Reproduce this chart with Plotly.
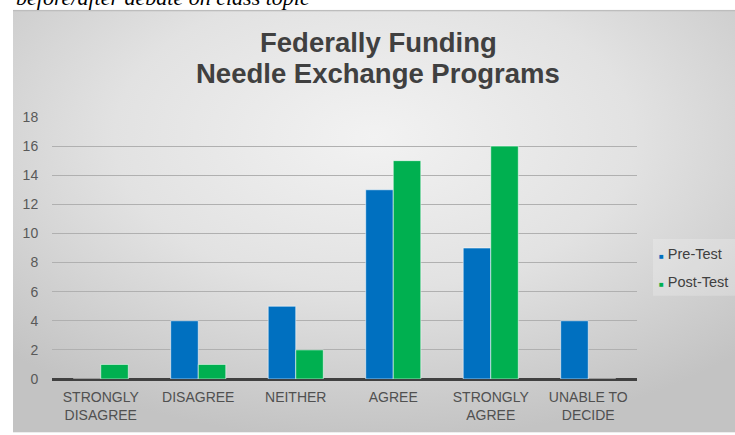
import base64
import plotly.graph_objects as go

# ---- data ----
categories = ["STRONGLY<br>DISAGREE", "DISAGREE", "NEITHER", "AGREE",
              "STRONGLY<br>AGREE", "UNABLE TO<br>DECIDE"]
series_names = ["Pre-Test", "Post-Test"]
pre_test = [0, 4, 5, 13, 9, 4]
post_test = [1, 1, 2, 15, 16, 0]
y_ticks = [0, 2, 4, 6, 8, 10, 12, 14, 16, 18]
title_lines = ["Federally Funding", "Needle Exchange Programs"]
caption = "before/after debate on class topic"

colors = ["#0070C0", "#00B050"]
W, H = 735, 435
L, R, T, B = 52, 98, 117, 54
pw, ph = W - L - R, H - T - B


def px_x(x):
    return (x - L) / pw


def px_y(y):
    return (H - B - y) / ph


fig = go.Figure()
for name, vals, col in zip(series_names, [pre_test, post_test], colors):
    fig.add_trace(go.Bar(
        x=categories, y=vals, name=name, showlegend=False,
        marker=dict(color=col, line=dict(color="rgba(255,255,255,0.55)", width=1)),
    ))

# gradient panel background
svg = ("<svg xmlns='http://www.w3.org/2000/svg' width='722' height='426' viewBox='0 0 722 426' preserveAspectRatio='none'>"
       "<defs><radialGradient id='g' cx='0.5' cy='0.3' r='0.72'>"
       "<stop offset='0' stop-color='#f2f2f2'/><stop offset='0.5' stop-color='#e2e2e2'/>"
       "<stop offset='1' stop-color='#c3c3c3'/></radialGradient></defs>"
       "<rect x='0' y='0' width='722' height='426' fill='url(#g)'/>"
       "<rect x='0' y='0' width='722' height='1.5' fill='#bdbdbd'/></svg>")
src = "data:image/svg+xml;base64," + base64.b64encode(svg.encode()).decode()
fig.add_layout_image(dict(
    source=src, xref="paper", yref="paper",
    x=px_x(13), y=px_y(9), sizex=722 / pw, sizey=426 / ph,
    xanchor="left", yanchor="top", sizing="stretch", layer="below",
))

annotations = []
# caption (cut off at top, as in the source)
annotations.append(dict(
    text="<i>%s</i>" % caption, xref="paper", yref="paper", x=px_x(14), y=px_y(-3),
    xanchor="left", yanchor="middle", showarrow=False,
    font=dict(family="Liberation Serif", size=22, color="#000000"),
))
# title lines
for line, yc in zip(title_lines, [42.0, 73.0]):
    annotations.append(dict(
        text="<b>%s</b>" % line, xref="paper", yref="paper",
        x=px_x(378), y=px_y(yc), xanchor="center", yanchor="middle",
        showarrow=False,
        font=dict(family="Liberation Sans", size=27.5, color="#404040"),
    ))
# legend
for name, col, yc in zip(series_names, colors, [255, 283]):
    annotations.append(dict(
        text="<span style='font-size:8px;color:%s'>■</span> %s" % (col, name),
        xref="paper", yref="paper", x=px_x(657), y=px_y(yc),
        xanchor="left", yanchor="middle", showarrow=False,
        font=dict(family="Liberation Sans", size=14.5, color="#404040"),
    ))

fig.update_layout(
    width=W, height=H,
    margin=dict(l=L, r=R, t=T, b=B, pad=0),
    paper_bgcolor="white", plot_bgcolor="rgba(0,0,0,0)",
    barmode="group", bargap=0.435, bargroupgap=0.0,
    showlegend=False,
    annotations=annotations,
    shapes=[dict(type="rect", xref="paper", yref="paper",
                 x0=px_x(653), x1=px_x(736), y0=px_y(297), y1=px_y(240),
                 fillcolor="rgba(255,255,255,0.22)", line=dict(width=0), layer="below")],
    font=dict(family="Liberation Sans", color="#595959"),
)
fig.update_xaxes(
    showgrid=False, showline=False, zeroline=False,
    ticks="outside", ticklen=5, tickcolor="rgba(0,0,0,0)",
    tickfont=dict(size=14, color="#505050"),
)
fig.update_yaxes(
    range=[0, 18], tickvals=y_ticks, showgrid=True,
    gridcolor="#b0b0b0", gridwidth=1,
    zeroline=True, zerolinecolor="#404040", zerolinewidth=2.5,
    showline=False, ticks="outside", ticklen=10, tickcolor="rgba(0,0,0,0)",
    tickfont=dict(size=14, color="#595959"),
)

fig.write_html("out.html",
               config={"displayModeBar": False},
               post_script="document.body.style.margin='0';document.body.style.overflow='hidden';")
